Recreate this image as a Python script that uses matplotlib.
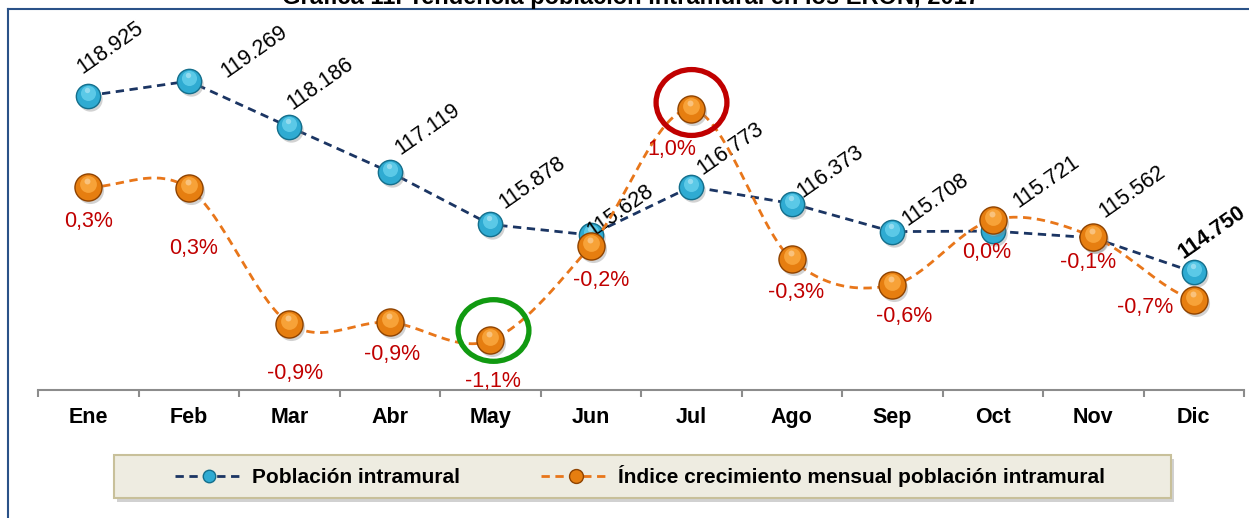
import numpy as np
import matplotlib.pyplot as plt
from matplotlib.lines import Line2D
from matplotlib.patches import Rectangle
from matplotlib.path import Path
from matplotlib.transforms import Affine2D, offset_copy

plt.rcParams['font.family'] = ['Liberation Sans', 'DejaVu Sans']

meses = ["Ene", "Feb", "Mar", "Abr", "May", "Jun", "Jul", "Ago", "Sep", "Oct", "Nov", "Dic"]
poblacion = [118925, 119269, 118186, 117119, 115878, 115628,
             116773, 116373, 115708, 115721, 115562, 114750]
crecimiento = [0.30, 0.29, -0.91, -0.90, -1.06, -0.22,
               0.99, -0.34, -0.57, 0.01, -0.14, -0.70]

# label offsets in pixels (dx, dy down), placed by hand like the original
off_pob = [(22, -48), (66, -29), (31, -43), (38, -43), (42, -42), (30, -24),
           (39, -38), (39, -32), (43, -32), (54, -49), (39, -46), (18, -40)]
off_crec = [(0, 34), (5, 60), (6, 50), (2, 32), (3, 41), (10, 35),
            (-19, 40), (4, 33), (12, 31), (-6, 33), (-5, 26), (-49, 8)]

AZUL_LINEA = "#1b3563"
NARANJA_LINEA = "#e8761a"
ROJO = "#c00000"

W, H = 1249, 518
fig = plt.figure(figsize=(W / 100, H / 100), dpi=100)
ax = fig.add_axes([38 / W, 1 - 390 / H, 1206 / W, 382 / H])
ax2 = ax.twinx()

x = np.arange(len(meses))


def suavizar(y, n=40):
    # bezier smoothing like the spreadsheet "smoothed line"
    y = np.asarray(y, float)
    xs, ys = [], []
    for i in range(len(y) - 1):
        p0 = y[max(i - 1, 0)]
        p1 = y[i]
        p2 = y[i + 1]
        p3 = y[min(i + 2, len(y) - 1)]
        c1 = p1 + (p2 - p0) / 6
        c2 = p2 - (p3 - p1) / 6
        t = np.linspace(0, 1, n)
        ys.append((1 - t) ** 3 * p1 + 3 * (1 - t) ** 2 * t * c1 + 3 * (1 - t) * t ** 2 * c2 + t ** 3 * p2)
        xs.append(i + t)
    return np.concatenate(xs), np.concatenate(ys)


def esfera(axis, xx, yy, ms, base, borde, claro, z):
    sh = offset_copy(axis.transData, fig=fig, x=2, y=-3, units='dots')
    axis.plot(xx, yy, 'o', ms=ms, color='#7f7f7f', alpha=0.35, mew=0, transform=sh, zorder=z)
    axis.plot(xx, yy, 'o', ms=ms, mfc=base, mec=borde, mew=1.0, zorder=z + 0.1)
    hi = offset_copy(axis.transData, fig=fig, x=0, y=3, units='dots')
    axis.plot(xx, yy, 'o', ms=ms * 0.62, mfc=claro, mew=0, alpha=0.7, transform=hi, zorder=z + 0.2)
    hi2 = offset_copy(axis.transData, fig=fig, x=-1, y=6, units='dots')
    axis.plot(xx, yy, 'o', ms=ms * 0.22, mfc='white', mew=0, alpha=0.35, transform=hi2, zorder=z + 0.3)


# Población intramural (left axis)
ax.plot(x, poblacion, ls='--', dashes=(3, 2), color=AZUL_LINEA, lw=2.0, zorder=2)
esfera(ax, x, poblacion, 17.5, '#2fabd2', '#146f8c', '#6fd6f0', 3)
for i, v in enumerate(poblacion):
    dx, dy = off_pob[i]
    ax.annotate(f"{v:,}".replace(",", "."), (x[i], v), xytext=(dx * 0.72, -dy * 0.72),
                textcoords='offset points', ha='center', va='center', rotation=35,
                rotation_mode='anchor', fontsize=15.5, color='black',
                fontweight='bold' if i == len(poblacion) - 1 else 'normal', zorder=6)

# Índice crecimiento (right axis)
xs, ys = suavizar(crecimiento)
ax2.plot(xs, ys, ls='--', dashes=(3, 2), color=NARANJA_LINEA, lw=2.0, zorder=2)
esfera(ax2, x, crecimiento, 19.5, '#e67e10', '#8f4300', '#ffb24a', 3)
for i, v in enumerate(crecimiento):
    dx, dy = off_crec[i]
    txt = f"{v:.1f}".replace(".", ",") + "%"
    if txt == "-0,0%":
        txt = "0,0%"
    ax2.annotate(txt, (x[i], v), xytext=(dx * 0.72, -dy * 0.72), textcoords='offset points',
                 ha='center', va='center', fontsize=15.5, color=ROJO, zorder=6)

# highlight circles
i_max = meses.index("Jul")
i_min = meses.index("May")
elip_r = Path.unit_circle().transformed(Affine2D().scale(1.0, 0.93))
elip_g = Path.unit_circle().transformed(Affine2D().scale(1.0, 0.87))
ax2.plot([x[i_max]], [crecimiento[i_max]], marker=elip_r, ms=51, mfc='none', mec=ROJO, mew=3.8,
         transform=offset_copy(ax2.transData, fig=fig, x=0, y=7, units='dots'), zorder=7)
ax2.plot([x[i_min]], [crecimiento[i_min]], marker=elip_g, ms=51, mfc='none', mec='#119a11', mew=3.8,
         transform=offset_copy(ax2.transData, fig=fig, x=3, y=10, units='dots'), zorder=7)

ax.set_xlim(-0.5, len(meses) - 0.5)
ax.set_ylim(111960, 121000)
ax2.set_ylim(-1.5, 1.89)

for a in (ax, ax2):
    for s in ('top', 'right', 'left'):
        a.spines[s].set_visible(False)
    a.set_yticks([])
ax2.spines['bottom'].set_visible(False)
ax.spines['bottom'].set_color('#8c8c8c')
ax.spines['bottom'].set_linewidth(1.5)
ax.set_xticks(x)
ax.set_xticklabels(meses, fontsize=15.5, fontweight='bold')
ax.set_xticks(np.arange(-0.5, len(meses)), minor=True)
ax.tick_params(axis='x', which='major', length=0, pad=12)
ax.tick_params(axis='x', which='minor', length=5, width=1.5, color='#8c8c8c')

# frame and title
fig.add_artist(Line2D([8 / W, 8 / W], [0, 1 - 9 / H], color='#2a5288', lw=1.5))
fig.add_artist(Line2D([8 / W, 1], [1 - 9 / H, 1 - 9 / H], color='#2a5288', lw=1.5))
fig.text(631 / W, 1 - 4 / H, "Gráfica 11. Tendencia población intramural en los ERON, 2017",
         ha='center', va='baseline', fontsize=17, fontweight='bold')

# legend box
fig.add_artist(Rectangle((117 / W, 1 - 502 / H), 1057 / W, 43 / H, transform=fig.transFigure,
                         facecolor='#9a9a9a', edgecolor='none', alpha=0.45))
fig.add_artist(Rectangle((114 / W, 1 - 498 / H), 1057 / W, 43 / H, transform=fig.transFigure,
                         facecolor='#eeece1', edgecolor='#c8c09a', lw=1.5))
handles = [
    Line2D([], [], color=AZUL_LINEA, ls='--', dashes=(3, 2), lw=2, marker='o', ms=9,
           mfc='#2fabd2', mec='#146f8c'),
    Line2D([], [], color=NARANJA_LINEA, ls='--', dashes=(3, 2), lw=2, marker='o', ms=10,
           mfc='#e67e10', mec='#8f4300'),
]
fig.legend(handles, ["Población intramural", "Índice crecimiento mensual población intramural"],
           loc='center', bbox_to_anchor=(640 / W, 1 - 476 / H), ncol=2, frameon=False,
           prop={'size': 15, 'weight': 'bold'}, handlelength=3.3, handletextpad=0.4,
           columnspacing=3.9)

fig.savefig("out.png", dpi=100)
